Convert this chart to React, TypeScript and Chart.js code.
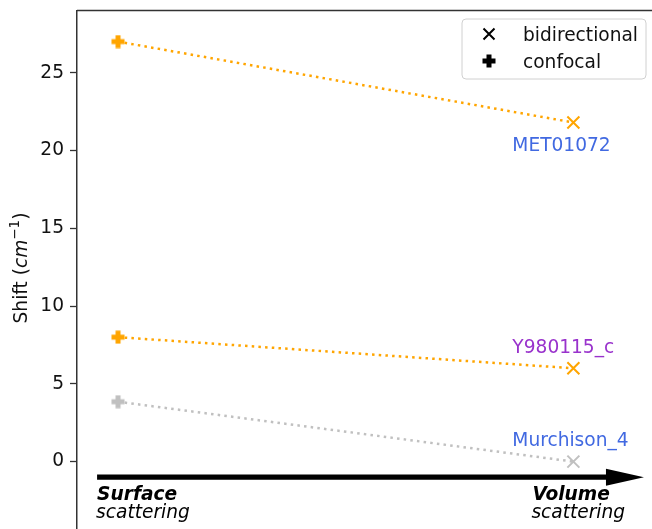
import React, { useEffect, useRef } from "react";
import { Chart, registerables } from "chart.js";

Chart.register(...registerables);

// Peak shift per sample, for the two acquisition geometries
const samples = ["MET01072", "Y980115_c", "Murchison_4"];
const confocalShift = [27.0, 8.0, 3.85];
const bidirectionalShift = [21.8, 6.0, 0.0];
const sampleLineColors = ["#FFA500", "#FFA500", "#C0C0C0"];
const sampleNameColors = ["#4169E1", "#9932CC", "#4169E1"];
const yTicks = [0, 5, 10, 15, 20, 25];
const legendLabels = ["bidirectional", "confocal"];
const regimeTitles = ["Surface", "Volume"];
const regimeSubtitle = "scattering";

const FONT = "DejaVu Sans";
const FS = 18.6;
const INK = "#111111";

// Filled "plus" marker used for confocal measurements
function makePlus(color: string, size = 14, arm = 5): HTMLCanvasElement {
  const c = document.createElement("canvas");
  c.width = size;
  c.height = size;
  const g = c.getContext("2d")!;
  g.fillStyle = color;
  const a = (size - arm) / 2;
  g.beginPath();
  g.moveTo(a, 0.5);
  g.lineTo(a + arm, 0.5);
  g.lineTo(a + arm, a);
  g.lineTo(size - 0.5, a);
  g.lineTo(size - 0.5, a + arm);
  g.lineTo(a + arm, a + arm);
  g.lineTo(a + arm, size - 0.5);
  g.lineTo(a, size - 0.5);
  g.lineTo(a, a + arm);
  g.lineTo(0.5, a + arm);
  g.lineTo(0.5, a);
  g.lineTo(a, a);
  g.closePath();
  g.fill();
  return c;
}

function drawX(ctx: CanvasRenderingContext2D, x: number, y: number, h: number, color: string) {
  ctx.save();
  ctx.strokeStyle = color;
  ctx.lineWidth = 2;
  ctx.beginPath();
  ctx.moveTo(x - h, y - h);
  ctx.lineTo(x + h, y + h);
  ctx.moveTo(x - h, y + h);
  ctx.lineTo(x + h, y - h);
  ctx.stroke();
  ctx.restore();
}

const decorations = {
  id: "decorations",
  afterDatasetsDraw(chart: any) {
    const { ctx, chartArea, scales } = chart;
    const xs = scales.x;
    const ys = scales.y;
    ctx.save();

    // top spine
    ctx.strokeStyle = "#333";
    ctx.lineWidth = 1.5;
    ctx.beginPath();
    ctx.moveTo(chartArea.left, chartArea.top);
    ctx.lineTo(chartArea.right + 20, chartArea.top);
    ctx.stroke();

    // surface -> volume arrow
    const ay = ys.getPixelForValue(-1);
    const ax0 = xs.getPixelForValue(-0.046);
    const aTip = xs.getPixelForValue(1.155);
    const headLen = 38;
    ctx.fillStyle = "#000";
    ctx.beginPath();
    ctx.moveTo(ax0, ay - 2.6);
    ctx.lineTo(aTip - headLen, ay - 2.6);
    ctx.lineTo(aTip - headLen, ay - 8.5);
    ctx.lineTo(aTip, ay);
    ctx.lineTo(aTip - headLen, ay + 8.5);
    ctx.lineTo(aTip - headLen, ay + 2.6);
    ctx.lineTo(ax0, ay + 2.6);
    ctx.closePath();
    ctx.fill();

    // regime captions
    const regimeX = [-0.046, 0.91];
    ctx.fillStyle = "#000";
    ctx.textAlign = "left";
    ctx.textBaseline = "alphabetic";
    regimeTitles.forEach((t, i) => {
      const px = xs.getPixelForValue(regimeX[i]);
      ctx.font = `italic bold ${FS}px "${FONT}"`;
      ctx.fillText(t, px, ay + 23);
      ctx.font = `italic ${FS}px "${FONT}"`;
      ctx.fillText(regimeSubtitle, px - 1, ay + 41);
    });

    // sample names next to the bidirectional points
    const nameOffsets = [-1.38, 1.44, 1.41];
    ctx.font = `${FS}px "${FONT}"`;
    samples.forEach((s, i) => {
      const py = ys.getPixelForValue(bidirectionalShift[i] + nameOffsets[i]);
      ctx.fillStyle = sampleNameColors[i];
      ctx.fillText(s, xs.getPixelForValue(0.866), py + 6.7);
    });

    // legend box
    const lx = 462, ly = 19, lw = 184, lh = 60, r = 4;
    ctx.fillStyle = "rgba(255,255,255,0.85)";
    ctx.strokeStyle = "#d0d0d0";
    ctx.lineWidth = 1;
    ctx.beginPath();
    ctx.moveTo(lx + r, ly);
    ctx.arcTo(lx + lw, ly, lx + lw, ly + lh, r);
    ctx.arcTo(lx + lw, ly + lh, lx, ly + lh, r);
    ctx.arcTo(lx, ly + lh, lx, ly, r);
    ctx.arcTo(lx, ly, lx + lw, ly, r);
    ctx.closePath();
    ctx.fill();
    ctx.stroke();
    drawX(ctx, 489, 34, 5.5, "#000");
    const plus = makePlus("#000");
    ctx.drawImage(plus, 489 - 7, 61 - 7);
    ctx.fillStyle = INK;
    ctx.font = `${FS}px "${FONT}"`;
    ctx.fillText(legendLabels[0], 523, 40.7);
    ctx.fillText(legendLabels[1], 523, 67.7);

    // y-axis title: Shift (cm^-1)
    ctx.save();
    ctx.translate(27, 268);
    ctx.rotate(-Math.PI / 2);
    const pieces = [
      { t: "Shift (", f: `${FS}px "${FONT}"`, dy: 0 },
      { t: "cm", f: `italic ${FS}px "${FONT}"`, dy: 0 },
      { t: "\u22121", f: `13.5px "${FONT}"`, dy: -8 },
      { t: ")", f: `${FS}px "${FONT}"`, dy: 0 },
    ];
    let total = 0;
    pieces.forEach((p) => {
      ctx.font = p.f;
      total += ctx.measureText(p.t).width;
    });
    let cx = -total / 2;
    ctx.fillStyle = INK;
    pieces.forEach((p) => {
      ctx.font = p.f;
      ctx.fillText(p.t, cx, p.dy);
      cx += ctx.measureText(p.t).width;
    });
    ctx.restore();

    ctx.restore();
  },
};

export default function App() {
  const ref = useRef<HTMLCanvasElement | null>(null);

  useEffect(() => {
    if (!ref.current) return;
    const plusByColor: Record<string, HTMLCanvasElement> = {};
    const datasets = samples.map((s, i) => {
      const col = sampleLineColors[i];
      if (!plusByColor[col]) plusByColor[col] = makePlus(col);
      return {
        label: s,
        data: [
          { x: 0, y: confocalShift[i] },
          { x: 1, y: bidirectionalShift[i] },
        ],
        showLine: true,
        borderColor: col,
        borderWidth: 2.5,
        borderDash: [2.5, 4.2],
        borderCapStyle: "butt" as const,
        pointStyle: [plusByColor[col], "crossRot"] as any,
        pointRadius: [7, 8.5],
        pointBorderWidth: 2,
        pointBorderColor: col,
        pointBackgroundColor: col,
      };
    });

    const chart = new Chart(ref.current, {
      type: "scatter",
      data: { datasets },
      options: {
        animation: false,
        responsive: false,
        events: [],
        layout: { padding: { top: 9, bottom: 20.6, left: 0, right: 0 } },
        plugins: { legend: { display: false }, tooltip: { enabled: false } },
        scales: {
          x: { type: "linear", min: -0.0901, max: 1.255, display: false },
          y: {
            type: "linear",
            min: -5,
            max: 29,
            afterBuildTicks: (s: any) => {
              s.ticks = yTicks.map((v) => ({ value: v }));
            },
            afterFit: (s: any) => {
              s.width = 77;
              s.paddingTop = 0;
              s.paddingBottom = 0;
            },
            ticks: {
              font: { family: FONT, size: FS },
              color: INK,
              padding: 6,
            },
            grid: {
              drawOnChartArea: false,
              drawTicks: true,
              tickLength: 7,
              tickWidth: 1.3,
              tickColor: "#333",
            },
            border: { display: true, color: "#333", width: 1.5 },
          },
        },
      },
      plugins: [decorations],
    });
    return () => chart.destroy();
  }, []);

  return (
    <div
      style={{
        position: "fixed",
        top: 0,
        left: 0,
        width: 652,
        height: 529,
        overflow: "hidden",
        background: "#fff",
      }}
    >
      <canvas ref={ref} width={700} height={560} style={{ width: 700, height: 560 }} />
    </div>
  );
}
